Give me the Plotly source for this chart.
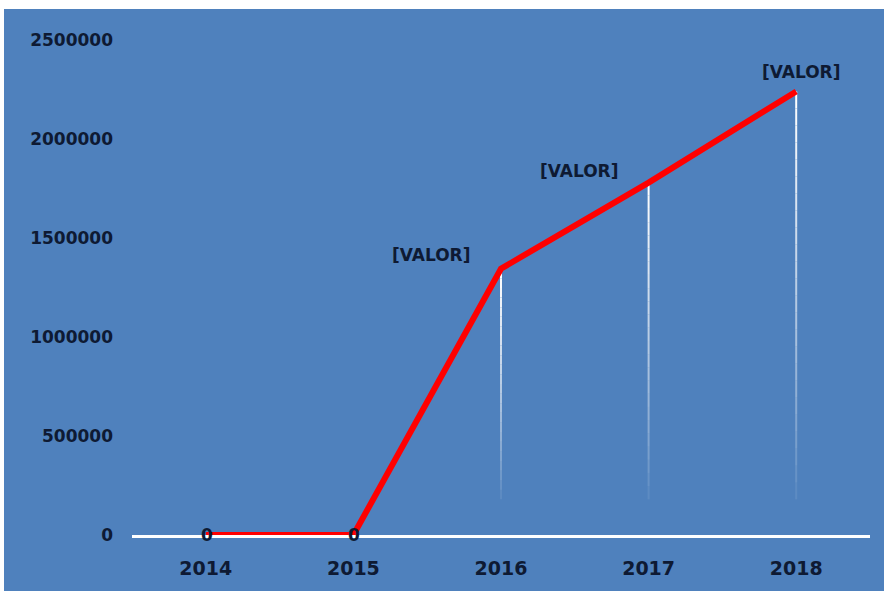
import plotly.graph_objects as go

# Yearly series
years = ["2014", "2015", "2016", "2017", "2018"]
values = [0, 0, 1345000, 1780000, 2240000]
point_labels = ["0", "0", "[VALOR]", "[VALOR]", "[VALOR]"]

y_ticks = [0, 500000, 1000000, 1500000, 2000000, 2500000]

BLUE = "#4F81BD"
TEXT = "#0E1A33"
FONT = "DejaVu Sans"

fig = go.Figure()

# Fading white drop lines under the non-zero points
fade_floor = 180000
steps = 24
for yr, v in zip(years, values):
    if v <= 0:
        continue
    span = v - fade_floor
    for i in range(steps):
        top = v - span * i / steps
        bot = v - span * (i + 1) / steps
        t = 1 - i / steps
        fig.add_trace(go.Scatter(
            x=[yr, yr], y=[top, bot], mode="lines",
            line=dict(color="white", width=2),
            opacity=max(0.0, min(1.0, t ** 0.8)),
            hoverinfo="skip", showlegend=False,
        ))

# Main red line
fig.add_trace(go.Scatter(
    x=years, y=values, mode="lines",
    line=dict(color="#FF0000", width=6),
    cliponaxis=False, showlegend=False,
))

# Data labels (category index used as the annotation x position)
label_offsets = {
    "2014": (1, 0), "2015": (1, 0),
    "2016": (-70, 14), "2017": (-70, 12), "2018": (5, 19),
}
for idx, (yr, v, txt) in enumerate(zip(years, values, point_labels)):
    dx, dy = label_offsets[yr]
    fig.add_annotation(
        x=idx, y=v, text=txt, showarrow=False,
        xshift=dx, yshift=dy,
        font=dict(family=FONT, size=17, color=TEXT, weight="bold"),
    )

fig.update_layout(
    width=884, height=591,
    margin=dict(l=132, r=14, t=40, b=54),
    paper_bgcolor=BLUE, plot_bgcolor=BLUE,
    showlegend=False,
    shapes=[
        # white frame strips along the top and left edges
        dict(type="rect", xref="paper", yref="paper",
             x0=-0.2, x1=(4 - 132) / 738, y0=-0.2, y1=1.2,
             fillcolor="white", line=dict(width=0), layer="above"),
        dict(type="rect", xref="paper", yref="paper",
             x0=-0.2, x1=1.1, y0=(537 - 9) / 497, y1=1.2,
             fillcolor="white", line=dict(width=0), layer="above"),
    ],
)

fig.update_xaxes(
    type="category", categoryorder="array", categoryarray=years,
    range=[-0.5, len(years) - 0.5],
    showgrid=False, zeroline=False,
    showline=True, linecolor="white", linewidth=3,
    ticks="", ticklabelstandoff=14,
    tickfont=dict(family=FONT, size=19, color=TEXT, weight="bold"),
)
fig.update_yaxes(
    range=[0, 2500000], tickvals=y_ticks,
    ticktext=[str(t) for t in y_ticks],
    showgrid=False, zeroline=False, showline=False,
    ticks="", ticklabelstandoff=18,
    tickfont=dict(family=FONT, size=17, color=TEXT, weight="bold"),
)

fig.write_html("out.html")
